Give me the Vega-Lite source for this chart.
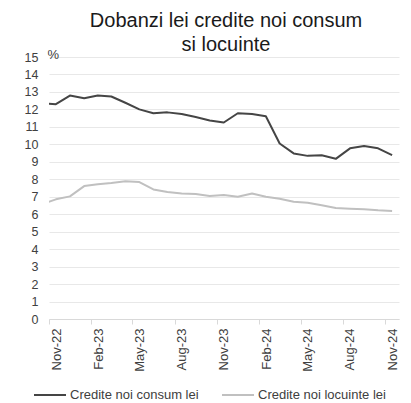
{
  "$schema": "https://vega.github.io/schema/vega-lite/v6.json",
  "width": 350,
  "height": 262,
  "autosize": {"type": "none"},
  "padding": {"left": 49, "top": 57, "right": 12, "bottom": 84},
  "background": "white",
  "title": {
    "text": ["Dobanzi lei credite noi consum", "si locuinte"],
    "font": "Liberation Sans",
    "fontSize": 20,
    "fontWeight": "normal",
    "lineHeight": 24,
    "color": "#1a1a1a",
    "anchor": "middle",
    "offset": 8,
    "dx": 2,
    "dy": 15
  },
  "data": {
    "values": [
      {"month": "2022-10", "series": "Credite noi consum lei", "rate": 12.34},
      {"month": "2022-11", "series": "Credite noi consum lei", "rate": 12.30},
      {"month": "2022-12", "series": "Credite noi consum lei", "rate": 12.79},
      {"month": "2023-01", "series": "Credite noi consum lei", "rate": 12.64},
      {"month": "2023-02", "series": "Credite noi consum lei", "rate": 12.79},
      {"month": "2023-03", "series": "Credite noi consum lei", "rate": 12.74},
      {"month": "2023-04", "series": "Credite noi consum lei", "rate": 12.38},
      {"month": "2023-05", "series": "Credite noi consum lei", "rate": 12.00},
      {"month": "2023-06", "series": "Credite noi consum lei", "rate": 11.78},
      {"month": "2023-07", "series": "Credite noi consum lei", "rate": 11.83},
      {"month": "2023-08", "series": "Credite noi consum lei", "rate": 11.74},
      {"month": "2023-09", "series": "Credite noi consum lei", "rate": 11.57},
      {"month": "2023-10", "series": "Credite noi consum lei", "rate": 11.36},
      {"month": "2023-11", "series": "Credite noi consum lei", "rate": 11.25},
      {"month": "2023-12", "series": "Credite noi consum lei", "rate": 11.78},
      {"month": "2024-01", "series": "Credite noi consum lei", "rate": 11.74},
      {"month": "2024-02", "series": "Credite noi consum lei", "rate": 11.61},
      {"month": "2024-03", "series": "Credite noi consum lei", "rate": 10.05},
      {"month": "2024-04", "series": "Credite noi consum lei", "rate": 9.48},
      {"month": "2024-05", "series": "Credite noi consum lei", "rate": 9.34},
      {"month": "2024-06", "series": "Credite noi consum lei", "rate": 9.38},
      {"month": "2024-07", "series": "Credite noi consum lei", "rate": 9.17},
      {"month": "2024-08", "series": "Credite noi consum lei", "rate": 9.77},
      {"month": "2024-09", "series": "Credite noi consum lei", "rate": 9.90},
      {"month": "2024-10", "series": "Credite noi consum lei", "rate": 9.77},
      {"month": "2024-11", "series": "Credite noi consum lei", "rate": 9.38},
      {"month": "2022-10", "series": "Credite noi locuinte lei", "rate": 6.57},
      {"month": "2022-11", "series": "Credite noi locuinte lei", "rate": 6.85},
      {"month": "2022-12", "series": "Credite noi locuinte lei", "rate": 7.02},
      {"month": "2023-01", "series": "Credite noi locuinte lei", "rate": 7.61},
      {"month": "2023-02", "series": "Credite noi locuinte lei", "rate": 7.71},
      {"month": "2023-03", "series": "Credite noi locuinte lei", "rate": 7.78},
      {"month": "2023-04", "series": "Credite noi locuinte lei", "rate": 7.88},
      {"month": "2023-05", "series": "Credite noi locuinte lei", "rate": 7.84},
      {"month": "2023-06", "series": "Credite noi locuinte lei", "rate": 7.42},
      {"month": "2023-07", "series": "Credite noi locuinte lei", "rate": 7.27},
      {"month": "2023-08", "series": "Credite noi locuinte lei", "rate": 7.19},
      {"month": "2023-09", "series": "Credite noi locuinte lei", "rate": 7.15},
      {"month": "2023-10", "series": "Credite noi locuinte lei", "rate": 7.04},
      {"month": "2023-11", "series": "Credite noi locuinte lei", "rate": 7.10},
      {"month": "2023-12", "series": "Credite noi locuinte lei", "rate": 7.00},
      {"month": "2024-01", "series": "Credite noi locuinte lei", "rate": 7.19},
      {"month": "2024-02", "series": "Credite noi locuinte lei", "rate": 7.00},
      {"month": "2024-03", "series": "Credite noi locuinte lei", "rate": 6.89},
      {"month": "2024-04", "series": "Credite noi locuinte lei", "rate": 6.71},
      {"month": "2024-05", "series": "Credite noi locuinte lei", "rate": 6.66},
      {"month": "2024-06", "series": "Credite noi locuinte lei", "rate": 6.51},
      {"month": "2024-07", "series": "Credite noi locuinte lei", "rate": 6.35},
      {"month": "2024-08", "series": "Credite noi locuinte lei", "rate": 6.31},
      {"month": "2024-09", "series": "Credite noi locuinte lei", "rate": 6.28},
      {"month": "2024-10", "series": "Credite noi locuinte lei", "rate": 6.22},
      {"month": "2024-11", "series": "Credite noi locuinte lei", "rate": 6.18}
    ]
  },
  "mark": {"type": "line", "clip": true, "strokeWidth": 2, "strokeJoin": "round"},
  "encoding": {
    "x": {
      "field": "month",
      "timeUnit": "utcyearmonth",
      "type": "temporal",
      "bandPosition": 0.5,
      "scale": {
        "domain": [
          {"utc": true, "year": 2022, "month": 11, "date": 1},
          {"utc": true, "year": 2024, "month": 12, "date": 1}
        ],
        "nice": false
      },
      "axis": {
        "title": null,
        "values": [
          {"utc": true, "year": 2022, "month": 11, "date": 1},
          {"utc": true, "year": 2023, "month": 2, "date": 1},
          {"utc": true, "year": 2023, "month": 5, "date": 1},
          {"utc": true, "year": 2023, "month": 8, "date": 1},
          {"utc": true, "year": 2023, "month": 11, "date": 1},
          {"utc": true, "year": 2024, "month": 2, "date": 1},
          {"utc": true, "year": 2024, "month": 5, "date": 1},
          {"utc": true, "year": 2024, "month": 8, "date": 1},
          {"utc": true, "year": 2024, "month": 11, "date": 1}
        ],
        "labelExpr": "utcFormat(datum.value, '%b-%y')",
        "grid": false,
        "labelAngle": -90,
        "labelAlign": "right",
        "labelBaseline": "middle",
        "labelOffset": 7,
        "labelPadding": 4,
        "labelFont": "Liberation Sans",
        "labelFontSize": 13,
        "labelColor": "#404040",
        "labelOverlap": false,
        "labelFlush": false,
        "domainColor": "#d9d9d9",
        "tickColor": "#d9d9d9",
        "tickSize": 5
      }
    },
    "y": {
      "field": "rate",
      "type": "quantitative",
      "scale": {"domain": [0, 15], "nice": false, "zero": true},
      "axis": {
        "title": "%",
        "titleAngle": 0,
        "titleX": -2,
        "titleY": -3,
        "titleAlign": "left",
        "titleBaseline": "middle",
        "titleFont": "Liberation Sans",
        "titleFontSize": 13,
        "titleFontWeight": "normal",
        "titleColor": "#404040",
        "values": [0, 1, 2, 3, 4, 5, 6, 7, 8, 9, 10, 11, 12, 13, 14, 15],
        "domain": false,
        "ticks": false,
        "labelPadding": 11,
        "labelFont": "Liberation Sans",
        "labelFontSize": 12.5,
        "labelColor": "#404040",
        "gridColor": "#e8e8e8",
        "gridWidth": 1
      }
    },
    "color": {
      "field": "series",
      "type": "nominal",
      "scale": {
        "domain": ["Credite noi consum lei", "Credite noi locuinte lei"],
        "range": ["#454545", "#c0c0c0"]
      },
      "legend": {
        "title": null,
        "orient": "none",
        "legendX": -16,
        "legendY": 321,
        "direction": "horizontal",
        "symbolType": "stroke",
        "symbolSize": 1024,
        "symbolStrokeWidth": 2,
        "labelFont": "Liberation Sans",
        "labelFontSize": 13,
        "labelColor": "#404040",
        "labelOffset": 3,
        "columnPadding": 19
      }
    }
  },
  "config": {"view": {"stroke": null}}
}
